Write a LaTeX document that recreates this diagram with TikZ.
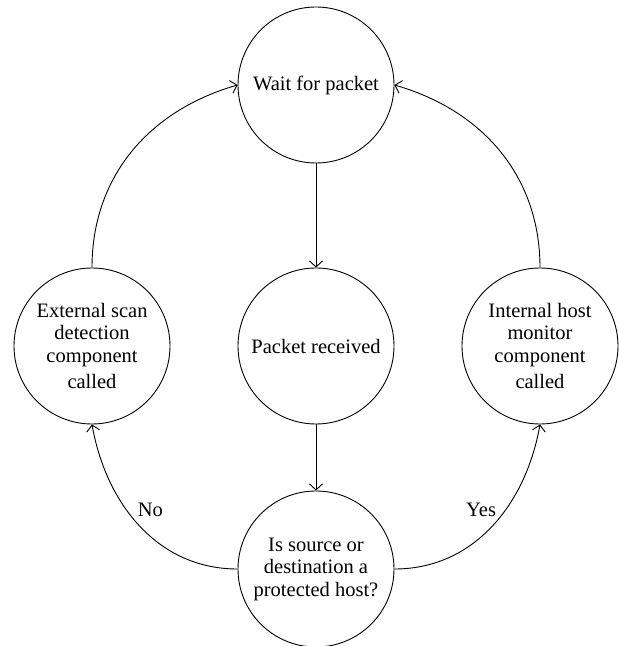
\documentclass[tikz,border=0pt]{standalone}
\usepackage{fontspec}
\setmainfont{Liberation Serif}
\usetikzlibrary{arrows.meta}

\begin{document}
\begin{tikzpicture}[x=1pt, y=1pt, line width=0.9pt,
   state/.style={circle, draw, minimum size=156pt, inner sep=0pt, align=center,
                 font=\fontsize{20.5}{22.5}\selectfont},
   lbl/.style={font=\fontsize{20.5}{22.5}\selectfont},
   >={Straight Barb[length=6pt,width=13pt]}]
\useasboundingbox (0,0) rectangle (619,646);
\node[state] (wait)  at (316,561) {Wait for packet};
\node[state] (recv)  at (316,300) {Packet received};
\node[state] (check) at (316,77)  {Is source or\\ destination a\\ protected host?};
\node[state] (ext)   at (92,300)  {External scan\\ detection\\ component\\[4pt] called};
\node[state] (int)   at (540,300) {Internal host\\ monitor\\ component\\[4pt] called};
\draw[->] (wait) -- (recv);
\draw[->] (recv) -- (check);
\draw[->] (ext.north) to[out=90, in=196] (wait.west);
\draw[->] (int.north) to[out=90, in=-16] (wait.east);
\draw[->] (check.west) to[out=180, in=-80] node[lbl, pos=.6, right=8pt] {No} (ext.south);
\draw[->] (check.east) to[out=0, in=-100] node[lbl, pos=.6, left=6pt] {Yes} (int.south);
\end{tikzpicture}
\end{document}
